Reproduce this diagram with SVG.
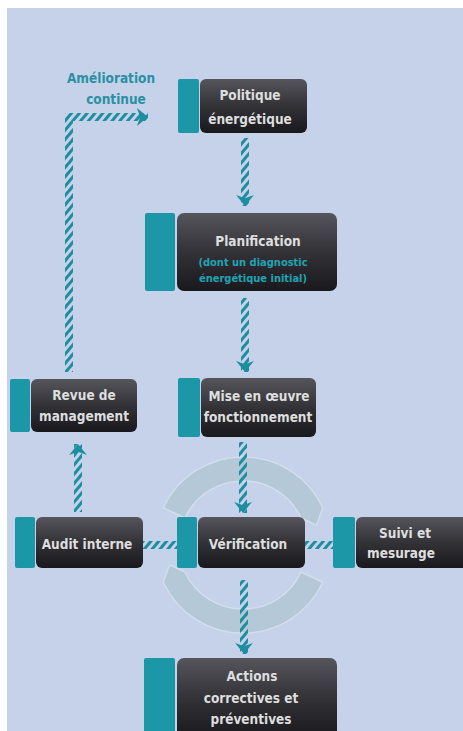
<svg xmlns="http://www.w3.org/2000/svg" width="463" height="731" viewBox="0 0 463 731">
<defs>
<style>
.bar{fill:#1b97a8}
.box{fill:url(#dark)}
.t{font-family:"DejaVu Sans Condensed","DejaVu Sans","Liberation Sans",sans-serif;font-weight:bold;font-size:13.5px;fill:#dedede;text-anchor:middle}
.ts{font-family:"DejaVu Sans Condensed","DejaVu Sans","Liberation Sans",sans-serif;font-weight:bold;font-size:11px;fill:#22a3b4;text-anchor:middle}
.ta{font-family:"DejaVu Sans Condensed","DejaVu Sans","Liberation Sans",sans-serif;font-weight:bold;font-size:13.5px;fill:#2a90a3;text-anchor:middle}
.h{fill:none;stroke:url(#hatch);stroke-width:8}
.arc{fill:#b3c7d7;stroke:#d4e0ec;stroke-width:1.5;opacity:0.9}
</style>
<linearGradient id="dark" x1="0" y1="0" x2="0" y2="1">
<stop offset="0" stop-color="#55555b"/>
<stop offset="0.5" stop-color="#323237"/>
<stop offset="1" stop-color="#19191d"/>
</linearGradient>
<pattern id="hatch" patternUnits="userSpaceOnUse" width="6" height="6" patternTransform="rotate(40)">
<rect x="0" y="0" width="3" height="6" fill="#1d8e9f"/>
</pattern>
<marker id="ah" markerUnits="userSpaceOnUse" markerWidth="20" markerHeight="20" viewBox="-1 -9 12 18" refX="10" refY="0" orient="auto">
<path d="M0,-8 L10,0 L0,8 L3,0 Z" fill="#1d8e9f"/>
</marker>
</defs>
<rect x="0" y="0" width="463" height="731" fill="#ffffff"/>
<rect x="7" y="8" width="456" height="723" fill="#c6d2ea"/>

<g id="cycle-arcs">
<path class="arc" d="M163.2,507.8 A88,88 0 0 1 322.8,507.8 L316.4,525.3 L301,517.9 A64,64 0 0 0 185,517.9 Z"/>
<path class="arc" d="M322.8,582.2 A88,88 0 0 1 163.2,582.2 L169.6,564.7 L185,572.1 A64,64 0 0 0 301,572.1 Z"/>
</g>

<g id="connectors">
<path class="h" d="M245,138 V206" marker-end="url(#ah)"/>
<path class="h" d="M245,298 V372" marker-end="url(#ah)"/>
<path class="h" d="M243,442 V513" marker-end="url(#ah)"/>
<path class="h" d="M244,580 V654" marker-end="url(#ah)"/>
<path class="h" d="M78,512 V444" marker-end="url(#ah)"/>
<path class="h" d="M69,372 V117 H148" marker-end="url(#ah)"/>
<path class="h" d="M143,545 H177"/>
<path class="h" d="M305,545 H333"/>
</g>

<g id="amelioration-label">
<text class="ta" x="111" y="83">Amélioration</text>
<text class="ta" x="116" y="104">continue</text>
</g>

<g id="politique">
<rect class="bar" x="178" y="79" width="21" height="54" rx="2"/>
<rect class="box" x="200" y="79" width="107" height="54" rx="6"/>
<text class="t" x="250" y="100">Politique</text>
<text class="t" x="250" y="124">énergétique</text>
</g>

<g id="planification">
<rect class="bar" x="145" y="213" width="30" height="78" rx="2"/>
<rect class="box" x="177" y="213" width="160" height="78" rx="7"/>
<text class="t" x="258" y="246">Planification</text>
<text class="ts" x="253" y="266">(dont un diagnostic</text>
<text class="ts" x="253" y="282">énergétique initial)</text>
</g>

<g id="revue">
<rect class="bar" x="10" y="379" width="20" height="53" rx="2"/>
<rect class="box" x="31" y="379" width="106" height="53" rx="6"/>
<text class="t" x="84" y="400">Revue de</text>
<text class="t" x="84" y="421">management</text>
</g>

<g id="mise-en-oeuvre">
<rect class="bar" x="178" y="378" width="22" height="59" rx="2"/>
<rect class="box" x="201" y="378" width="115" height="59" rx="6"/>
<text class="t" x="259" y="401">Mise en œuvre</text>
<text class="t" x="258" y="422">fonctionnement</text>
</g>

<g id="audit">
<rect class="bar" x="15" y="517" width="20" height="51" rx="2"/>
<rect class="box" x="36" y="517" width="107" height="51" rx="6"/>
<text class="t" x="87" y="549">Audit interne</text>
</g>

<g id="verification">
<rect class="bar" x="177" y="517" width="20" height="51" rx="2"/>
<rect class="box" x="198" y="517" width="107" height="51" rx="6"/>
<text class="t" x="248" y="549">Vérification</text>
</g>

<g id="suivi">
<rect class="bar" x="333" y="517" width="22" height="51" rx="2"/>
<rect class="box" x="356" y="517" width="112" height="51" rx="6"/>
<text class="t" x="405" y="538">Suivi et</text>
<text class="t" x="401" y="558">mesurage</text>
</g>

<g id="actions">
<rect class="bar" x="144" y="658" width="31" height="80" rx="2"/>
<rect class="box" x="177" y="658" width="160" height="80" rx="7"/>
<text class="t" x="252" y="681">Actions</text>
<text class="t" x="251" y="703">correctives et</text>
<text class="t" x="251" y="724">préventives</text>
</g>
</svg>
